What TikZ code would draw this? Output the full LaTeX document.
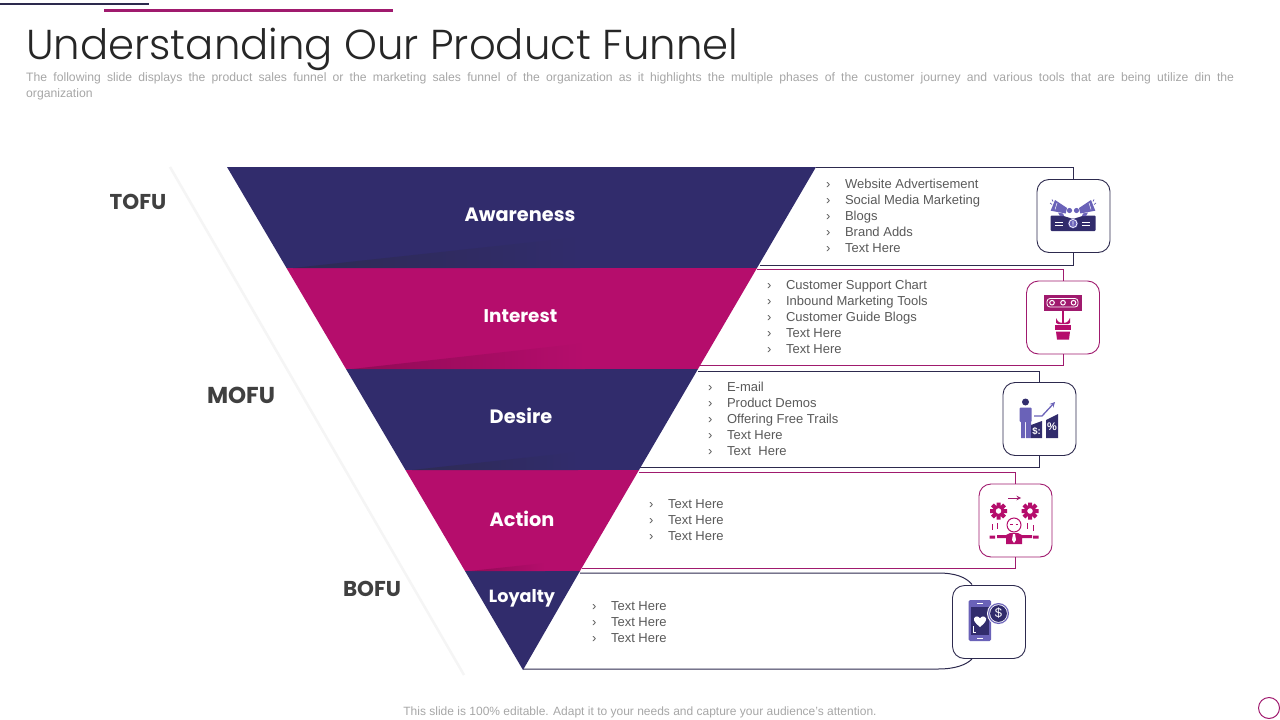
\documentclass[tikz,border=0pt]{standalone}
\usepackage{fontspec}
\setmainfont{Liberation Sans}
\newfontfamily\gothic{Poppins}
\newfontfamily\gothiclight{Poppins Light}
\definecolor{navy}{HTML}{312C6C}
\definecolor{berry}{HTML}{B50D6C}
\definecolor{lilac}{HTML}{6A62B8}
\definecolor{navyline}{HTML}{2D2A4E}
\definecolor{berryline}{HTML}{A01A6E}
\definecolor{bodygray}{HTML}{595959}
\definecolor{palegray}{HTML}{A6A6A6}
\newcommand{\chev}{›\hspace{14.5pt}}
\tikzset{
  bandlabel/.style={text=white,font=\gothic\bfseries\fontsize{#1}{24}\selectfont},
  bandlabel/.default=19.3,
  stagelabel/.style={text=black!75,font=\gothic\bfseries\fontsize{#1}{26}\selectfont},
  stagelabel/.default=21.5,
  itemlist/.style={anchor=north west,align=left,inner sep=0pt,text=bodygray,font=\fontsize{13}{16}\selectfont},
  iconbox/.style={draw=#1,fill=white,line width=0.9pt,rounded corners=12pt,minimum size=73pt,inner sep=0pt},
  panel/.style={draw=#1,line width=1pt}
}
\begin{document}
\begin{tikzpicture}[x=1pt,y=-1pt]
  \useasboundingbox (0,0) rectangle (1280,720);
  % top rules and title
  \fill[navyline] (0,3) rectangle (149,5);
  \fill[berryline] (104,9) rectangle (393,12);
  \node[anchor=west,inner sep=0pt,text=black!85,font=\gothiclight\fontsize{41.8}{50}\selectfont] (title) at (26,49) {Understanding Our Product Funnel};
  \node[anchor=north west,inner sep=0pt,align=left,text=palegray,font=\fontsize{12.2}{16}\selectfont] (subtitle) at (26,72) {\makebox[1208pt][s]{The following slide displays the product sales funnel or the marketing sales funnel of the organization as it highlights the multiple phases of the customer journey and various tools that are being utilize din the}\\organization};
  % side strip
  \fill[white] (167,167) -- (227,167) -- (523,670) -- (464,675) -- cycle;
  \draw[black!4,line width=2.5pt] (170,167) -- (464,675);
  % icon boxes
  \node[iconbox=navyline] (awaIcon) at (1073.5,216) {};
  \node[iconbox=berryline] (intIcon) at (1063,317.5) {};
  \node[iconbox=navyline] (desIcon) at (1039.5,419) {};
  \node[iconbox=berryline] (actIcon) at (1015.5,520.5) {};
  \node[iconbox=navyline] (loyIcon) at (989,622) {};
  % panels behind the funnel
  \coordinate (awaTop) at (816,167.5);
  \coordinate (awaBot) at (760,265);
  \coordinate (intTop) at (757,269);
  \coordinate (intBot) at (700,365.5);
  \coordinate (desTop) at (698,371);
  \coordinate (desBot) at (640,467);
  \coordinate (actTop) at (639,472.5);
  \coordinate (actBot) at (582,568);
  \coordinate (loyTop) at (580,573);
  \coordinate (loyBot) at (523,669);
  \coordinate (loyTopEnd) at (972,584.5);
  \coordinate (loyBotEnd) at (972,659);
  \draw[panel=navyline] (awaTop) -| (awaIcon.north);
  \draw[panel=navyline] (awaIcon.south) |- (awaBot);
  \draw[panel=berryline] (intTop) -| (intIcon.north);
  \draw[panel=berryline] (intIcon.south) |- (intBot);
  \draw[panel=navyline] (desTop) -| (desIcon.north);
  \draw[panel=navyline] (desIcon.south) |- (desBot);
  \draw[panel=berryline] (actTop) -| (actIcon.north);
  \draw[panel=berryline] (actIcon.south) |- (actBot);
  \draw[panel=navyline] (loyTop) -- (938,573) .. controls (955,573) and (966,577) .. (loyTopEnd);
  \draw[panel=navyline] (loyBot) -- (938,669) .. controls (955,669) and (966,665) .. (loyBotEnd);
  % funnel bands
  \fill[navy] (227,167) -- (816,167) -- (757,268) -- (286.5,268) -- cycle;
  \fill[berry] (286.5,268) -- (757,268) -- (698,369) -- (346,369) -- cycle;
  \fill[navy] (346,369) -- (698,369) -- (639,470) -- (405.5,470) -- cycle;
  \fill[berry] (405.5,470) -- (639,470) -- (580,571) -- (465,571) -- cycle;
  \fill[navy] (465,571) -- (580,571) -- (523,670) -- cycle;
  % folds
  \shade[left color=navyline!80!navy,middle color=navyline!80!navy,right color=navy] (293,268) -- (580,237) -- (580,268) -- cycle;
  \shade[left color=berry!80!black,middle color=berry!80!black,right color=berry] (352,369) -- (585,343) -- (585,369) -- cycle;
  \shade[left color=navyline!80!navy,middle color=navyline!80!navy,right color=navy] (412,470) -- (578,452) -- (578,470) -- cycle;
  \shade[left color=berry!80!black,middle color=berry!85!black,right color=berry] (470,571) -- (545,563) -- (545,571) -- cycle;
  % band labels
  \node[bandlabel] (awareness) at (520,214.5) {Awareness};
  \node[bandlabel=18.4] (interest) at (520.5,316) {Interest};
  \node[bandlabel] (desire) at (521,416) {Desire};
  \node[bandlabel] (action) at (522,519) {Action};
  \node[bandlabel=17.6] (loyalty) at (522,598) {Loyalty};
  \node[stagelabel] (tofu) at (138,202) {TOFU};
  \node[stagelabel=23] (mofu) at (241,395) {MOFU};
  \node[stagelabel] (bofu) at (372,589) {BOFU};
  % lists
  \node[itemlist] (awaList) at (826,179) {\chev Website Advertisement\\\chev Social Media Marketing\\\chev Blogs\\\chev Brand Adds\\\chev Text Here};
  \node[itemlist] (intList) at (767,280) {\chev Customer Support Chart\\\chev Inbound Marketing Tools\\\chev Customer Guide Blogs\\\chev Text Here\\\chev Text Here};
  \node[itemlist] (desList) at (708,382) {\chev E-mail\\\chev Product Demos\\\chev Offering Free Trails\\\chev Text Here\\\chev Text\hspace{4pt} Here};
  \node[itemlist] (actList) at (649,499) {\chev Text Here\\\chev Text Here\\\chev Text Here};
  \node[itemlist] (loyList) at (592,601) {\chev Text Here\\\chev Text Here\\\chev Text Here};
  % awareness icon
  \fill[navy,rounded corners=1pt] (1050.5,215.5) -- (1062,215.5) -- (1073,219) -- (1084,215.5) -- (1095.5,215.5) -- (1095.5,231) -- (1050.5,231) -- cycle;
  \fill[lilac] (1055,200) -- (1050.7,210.7) -- (1065.7,213.5) -- (1067,208) -- cycle;
  \fill[lilac] (1091,200) -- (1095.3,210.7) -- (1080.3,213.5) -- (1079,208) -- cycle;
  \fill[lilac] (1069.5,210.5) circle[radius=2.6pt] (1076.5,210.5) circle[radius=2.6pt];
  \fill[lilac] (1058,212.5) -- (1063,213.5) -- (1064,216) -- (1060,216) -- cycle;
  \fill[lilac] (1088,212.5) -- (1083,213.5) -- (1082,216) -- (1086,216) -- cycle;
  \draw[white,line width=0.5pt] (1057,203) -- (1055,209.5) (1089,203) -- (1091,209.5);
  \draw[lilac,line width=0.7pt] (1050,203) -- (1052,204.5) (1096,203) -- (1094,204.5) (1052,199.5) -- (1053,201.5) (1094,199.5) -- (1093,201.5);
  \draw[white,line width=1pt] (1055,222) -- (1063,222) (1055,225) -- (1063,225) (1082,222) -- (1090,222) (1082,225) -- (1090,225);
  \fill[lilac] (1073,223.5) circle[radius=5pt];
  \draw[white,line width=0.7pt] (1073,223.5) circle[radius=4pt] (1073,221) -- (1073,224.5) (1073,225.3) -- (1073,226);
  % interest icon
  \fill[berryline] (1043.5,294.5) rectangle (1081.5,311);
  \draw[white,line width=0.8pt,rounded corners=3pt] (1047,298.5) rectangle (1078,307);
  \foreach \x in {1052,1063,1073.5} \draw[white,line width=1pt] (\x,302.7) circle[radius=2.3pt];
  \draw[berry,line width=1.5pt] (1063,311) -- (1063,323);
  \fill[berry] (1056,318) .. controls (1058,323) and (1061,323) .. (1063,323) .. controls (1065,323) and (1068,323) .. (1070,318) -- (1070,323) -- (1068,324) -- (1058,324) -- (1056,323) -- cycle;
  \fill[berry] (1054.5,325) rectangle (1071,330);
  \fill[berry] (1056,331.5) -- (1070,331.5) -- (1069,339.5) -- (1057,339.5) -- cycle;
  % desire icon
  \fill[navy] (1025.5,402) circle[radius=3.5pt];
  \fill[lilac,rounded corners=1pt] (1019.5,407.5) rectangle (1031.5,422);
  \fill[lilac] (1021,420) rectangle (1025.2,438) (1026,420) rectangle (1031,438);
  \draw[lilac,line width=1.3pt,-stealth] (1034,416) -- (1042,416) -- (1055,402);
  \fill[navy] (1031,425) -- (1042,421) -- (1042,438) -- (1031,438) -- cycle;
  \fill[navy] (1046,420) -- (1058,414) -- (1058,438) -- (1046,438) -- cycle;
  \node[text=white,inner sep=0pt,font=\bfseries\fontsize{9.5}{9.5}\selectfont] (desDollar) at (1036.5,431) {\$:};
  \node[text=white,inner sep=0pt,font=\bfseries\fontsize{11}{11}\selectfont] (desPercent) at (1052,427) {\%};
  % action icon
  \draw[berryline,line width=1pt,-stealth] (1008,498) -- (1021,498);
  \foreach \cx in {998.5,1030} {
    \foreach \a in {0,45,...,315} \fill[berry] (\cx,511) ++(\a:5pt) -- ++(\a+90:2pt) -- ++(\a:3.5pt) -- ++(\a-90:4pt) -- ++(\a-180:3.5pt) -- cycle;
    \draw[berry,line width=3pt] (\cx,511) circle[radius=4.5pt];
  }
  \draw[berry,line width=1pt,fill=white] (1014,525) circle[radius=7pt];
  \draw[berry,line width=0.6pt] (1010,524) -- (1012.5,524) (1015.5,524) -- (1018,524);
  \fill[berry] (997,535) -- (1006,535) -- (1010,533) -- (1018,533) -- (1022,535) -- (1032,535) -- (1032,538) -- (1022,538) -- (1022,544) -- (1006,544) -- (1006,538) -- (997,538) -- cycle;
  \fill[white] (1013,534) -- (1015,534) -- (1016,540) -- (1014,543) -- (1012,540) -- cycle;
  \fill[berry] (989.5,535.5) rectangle (995,538.5) (1033,535.5) rectangle (1038.5,538.5);
  \draw[berry,line width=1pt] (992.5,524) -- (992.5,530) (997.5,523) -- (997.5,529) (1027,523) -- (1027,529) (1033,525) -- (1033,531);
  % loyalty icon
  \fill[lilac,rounded corners=1.5pt] (968.5,600) rectangle (991,641);
  \fill[navy] (970.5,607) rectangle (988.5,635);
  \draw[white,line width=0.6pt] (977,603.5) -- (983,603.5) (977,638) -- (983,638);
  \fill[white] (980,627) .. controls (975,623) and (973.5,620.5) .. (974,618.5) .. controls (975,615.5) and (979,616) .. (980,618.5) .. controls (981,616) and (985,615.5) .. (986,618.5) .. controls (986.5,620.5) and (985,623) .. (980,627) -- cycle;
  \draw[white,line width=0.7pt] (973.5,626) -- (973.5,632) -- (976,632);
  \fill[white] (998.5,613.5) circle[radius=11.5pt];
  \fill[lilac] (998.5,613.5) circle[radius=10.5pt];
  \fill[white] (998.5,613.5) circle[radius=9.2pt];
  \fill[navy] (998.5,613.5) circle[radius=8.4pt];
  \node[text=white,inner sep=0pt,font=\fontsize{13}{13}\selectfont] (loyDollar) at (998.5,613.5) {\$};
  % footer
  \node[text=palegray,inner sep=0pt,font=\fontsize{12}{14}\selectfont] (footer) at (640,712) {This slide is 100\% editable. Adapt it to your needs and capture your audience's attention.};
  \draw[berryline,line width=1pt] (1269,708) circle[radius=10.5pt];
\end{tikzpicture}
\end{document}
